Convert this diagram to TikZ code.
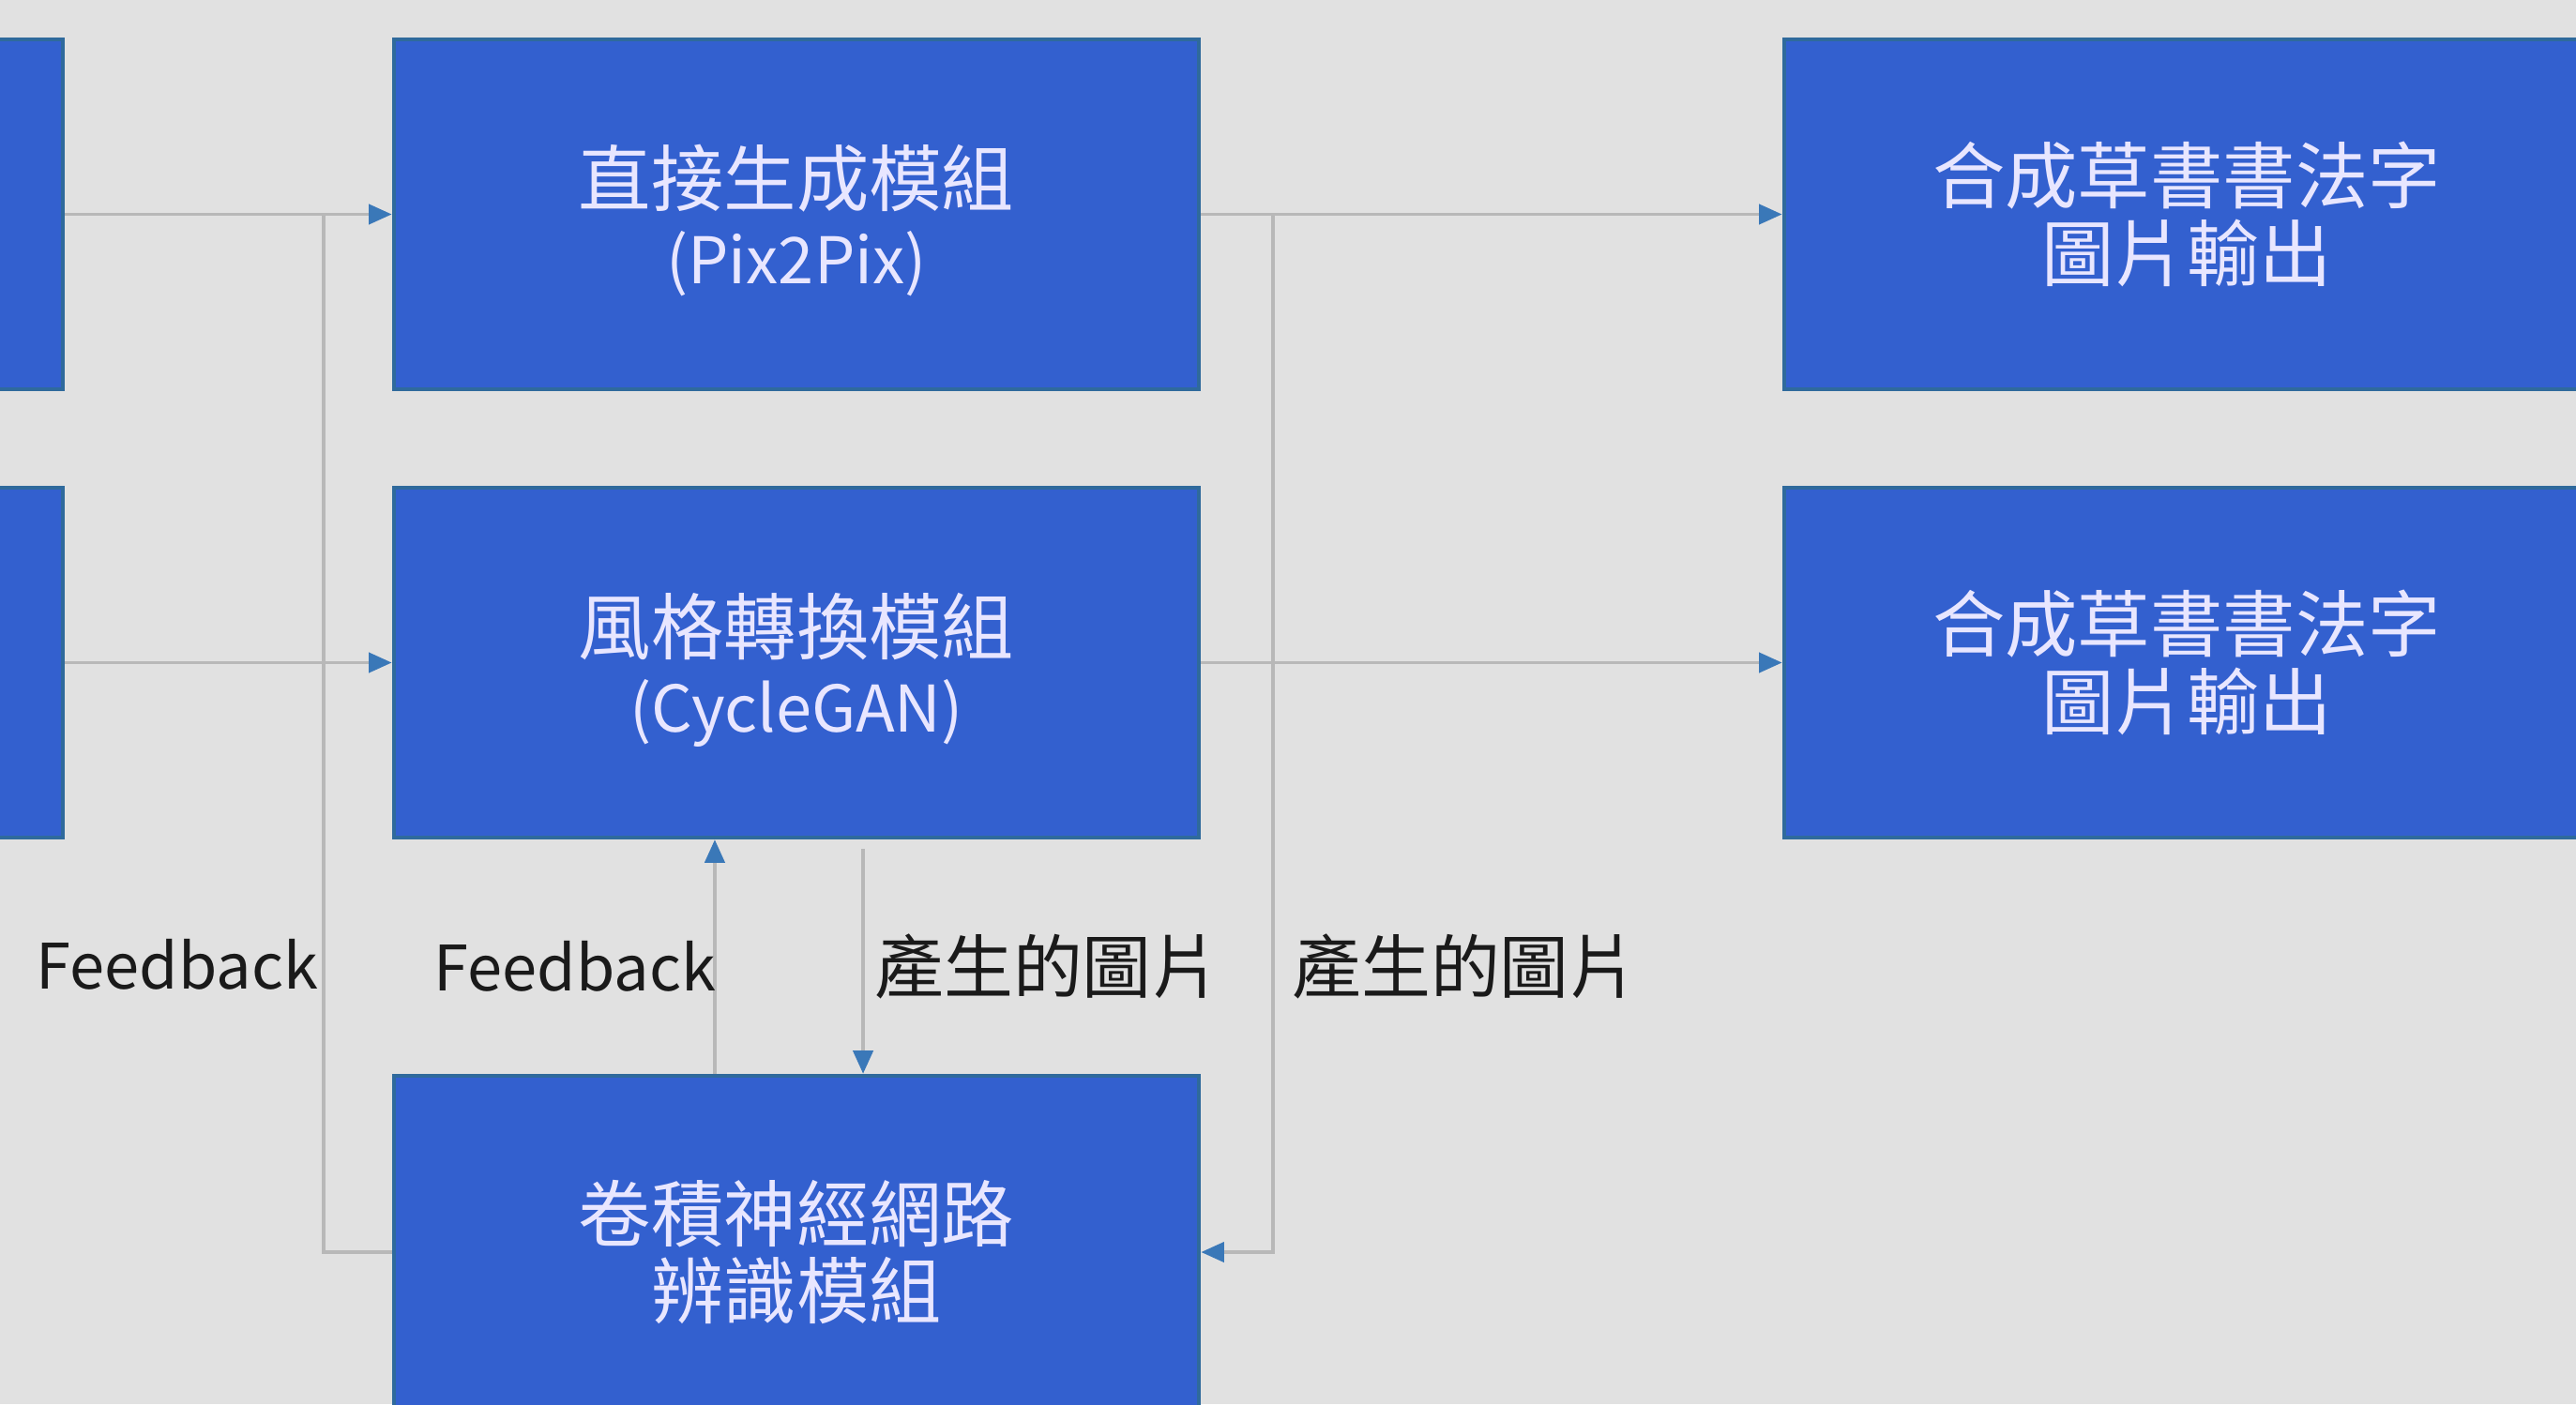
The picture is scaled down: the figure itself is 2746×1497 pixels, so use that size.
\documentclass[tikz,border=0pt]{standalone}
\usepackage{fontspec}
\setmainfont{Noto Sans CJK TC}
\usetikzlibrary{arrows.meta}
\definecolor{bg}{HTML}{E1E1E1}
\definecolor{boxblue}{HTML}{3360CF}
\definecolor{boxedge}{HTML}{2F6A9C}
\definecolor{wire}{HTML}{B8B8B8}
\definecolor{tipblue}{HTML}{3A78B8}
\definecolor{boxtext}{HTML}{E8E6FF}
\definecolor{labtext}{HTML}{1A1A1A}
\newcommand{\latinsub}[1]{{\fontsize{19.5}{23.5}\selectfont #1}}
\tikzset{
  modbox/.style={rectangle, fill=boxblue, draw=boxedge, line width=1.2pt,
    minimum width=8.58cm, minimum height=3.73cm, align=center,
    text=boxtext, font=\fontsize{22}{23.5}\selectfont, inner sep=0pt},
  wireline/.style={draw=wire, line width=1.1pt},
  flow/.style={wireline, -{Triangle[length=7pt,width=6pt,color=tipblue,fill=tipblue]}},
  lab/.style={text=labtext, inner sep=0pt},
}
\begin{document}
\begin{tikzpicture}[x=0.01cm, y=-0.01cm]
\useasboundingbox (0,0) rectangle (2746,1497);
\clip (0,0) rectangle (2746,1497);
\fill[bg] (0,0) rectangle (2746,1497);

% boxes
\node[modbox] (in1) at (-362,228.5) {};
\node[modbox] (in2) at (-362,706.5) {};
\node[modbox, text depth=-0.12cm] (mod1) at (849,228.5) {直接生成模組\\\latinsub{(Pix2Pix)}};
\node[modbox, text depth=-0.12cm] (mod2) at (849,706.5) {風格轉換模組\\\latinsub{(CycleGAN)}};
\node[modbox, minimum height=3.76cm] (cnn) at (849,1335) {卷積神經網路\\辨識模組};
\node[modbox] (out1) at (2331,228.5) {合成草書書法字\\圖片輸出};
\node[modbox] (out2) at (2331,706.5) {合成草書書法字\\圖片輸出};

% coordinates
\coordinate (fbtop) at (345,228.5);
\coordinate (rvtop) at (1357,228.5);

% connectors
\draw[flow] (in1.east) -- (mod1.west);
\draw[flow] (in2.east) -- (mod2.west);
\draw[wireline] (cnn.west) -| (fbtop);
\draw[flow] ([xshift=-0.87cm]cnn.north) -- ([xshift=-0.87cm]mod2.south);
\draw[flow] ([xshift=0.71cm,yshift=-0.1cm]mod2.south) -- ([xshift=0.71cm]cnn.north);
\draw[flow] (mod1.east) -- (out1.west);
\draw[flow] (mod2.east) -- (out2.west);
\draw[flow] (rvtop) |- (cnn.east);

% labels
\node[lab, font=\fontsize{19}{22}\selectfont] (fb1) at (189,1028) {Feedback};
\node[lab, font=\fontsize{19}{22}\selectfont] (fb2) at (613,1030) {Feedback};
\node[lab, font=\fontsize{21}{24}\selectfont] (gen1) at (1117,1030) {產生的圖片};
\node[lab, font=\fontsize{21}{24}\selectfont] (gen2) at (1562,1030) {產生的圖片};
\end{tikzpicture}
\end{document}
